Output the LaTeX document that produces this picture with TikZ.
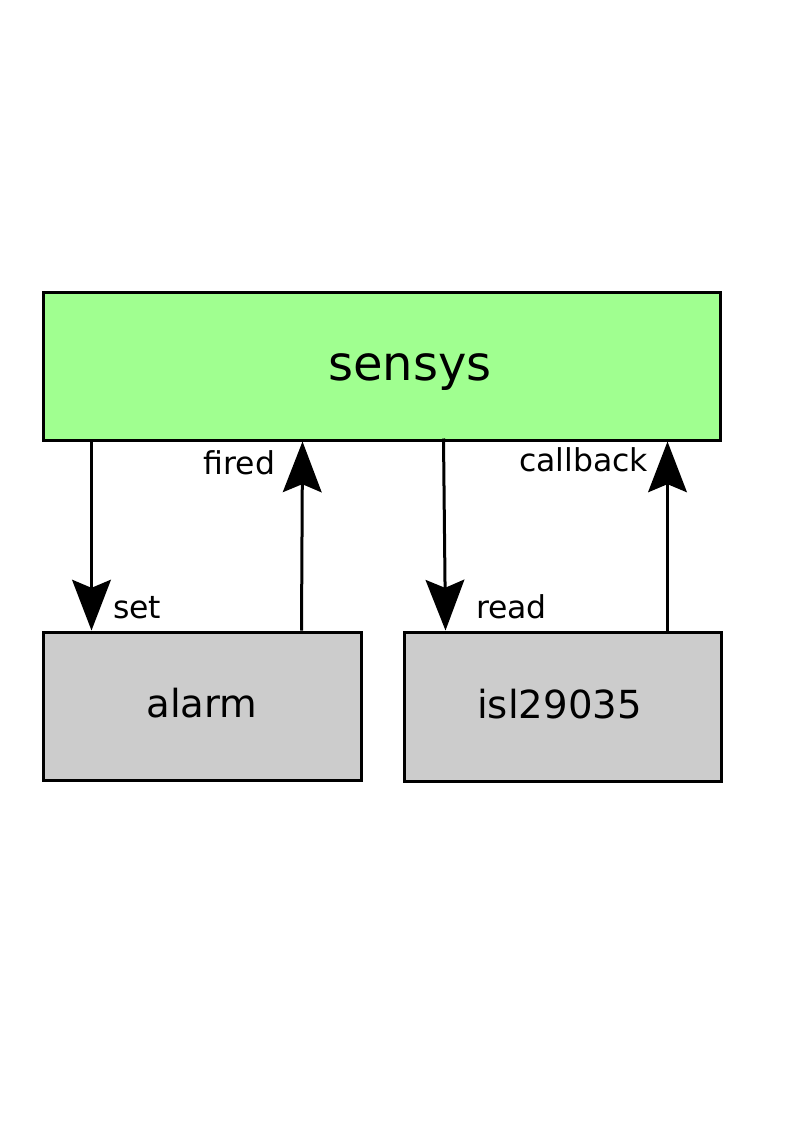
\documentclass[tikz,border=0pt]{standalone}
\usepackage{fontspec}
\setmainfont{DejaVu Sans}
\usepackage{tikz}
\usetikzlibrary{arrows.meta, positioning}
\definecolor{sensgreen}{RGB}{160,255,144}
\definecolor{modgray}{RGB}{204,204,204}

\begin{document}
\begin{tikzpicture}[
    x=0.75pt, y=-0.75pt,
    >={Stealth[length=38pt, width=29pt, inset=6pt]},
    box/.style={draw, line width=2.25pt, inner sep=0pt},
    modtext/.style={font=\fontsize{29}{35}\selectfont, text height=23.2pt, text depth=5.8pt},
    flow/.style={->, line width=2.25pt},
    lbl/.style={inner sep=0pt, font=\fontsize{23.6}{28}\selectfont},
]
    \useasboundingbox (0,0) rectangle (794,1123);

    % Main component
    \node[box, fill=sensgreen, minimum width=507.75pt, minimum height=111pt,
          label={[font=\fontsize{36}{43}\selectfont, text height=28.8pt, text depth=7.2pt, xshift=21.4pt]center:sensys}]
          (sensys) at (381.5,366) {};

    % Lower modules
    \node[box, modtext, fill=modgray, minimum width=238.5pt, minimum height=111pt] (alarm) at (202,706) {alarm};
    \node[box, modtext, fill=modgray, minimum width=237.75pt, minimum height=111.75pt] (isl) at (562.5,706.5) {isl29035\hspace*{4.5pt}};

    % Alarm arrows
    \draw[flow] ([xshift=37.5pt]sensys.south west) -- ([xshift=37.5pt]alarm.north west)
        node[lbl, at end, anchor=base west, xshift=15pt, yshift=9pt] {set};
    \draw[flow] ([xshift=195pt]alarm.north west) -- ([xshift=195.75pt]sensys.south west)
        node[lbl, at end, anchor=base east, xshift=-19.5pt, yshift=-24.75pt] {fired};

    % Sensor arrows
    \draw[flow] ([xshift=301.5pt, yshift=2.25pt]sensys.south west) -- ([xshift=32.25pt]isl.north west)
        node[lbl, at end, anchor=base west, xshift=21.75pt, yshift=9pt] {read};
    \draw[flow] ([xshift=198.75pt]isl.north west) -- ([xshift=469.5pt]sensys.south west)
        node[lbl, at end, anchor=base east, xshift=-13.5pt, yshift=-22.5pt] {callback};
\end{tikzpicture}
\end{document}
